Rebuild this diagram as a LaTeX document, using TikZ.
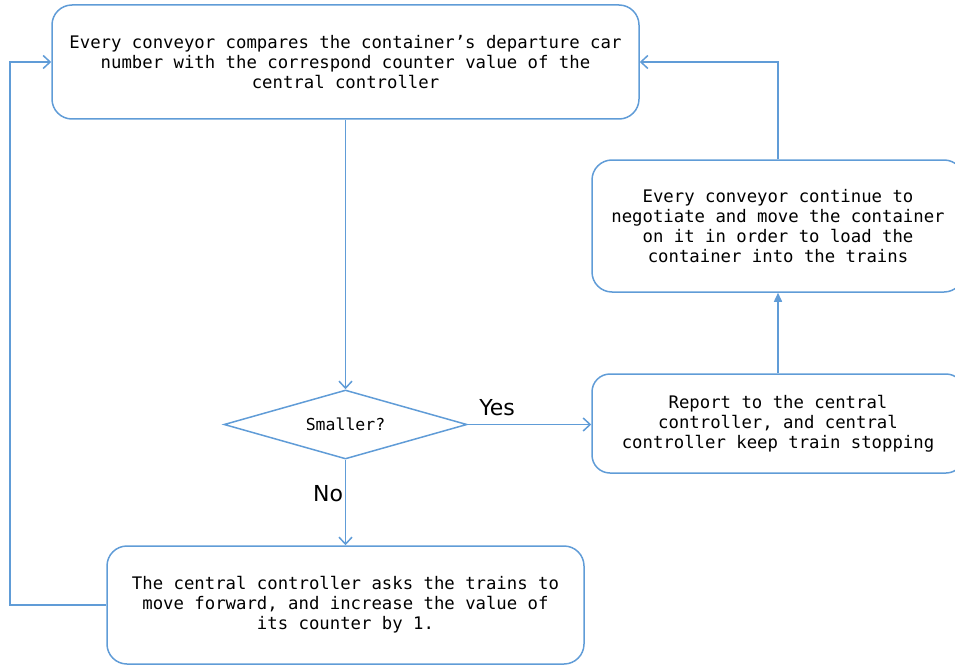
\documentclass[tikz,border=0pt]{standalone}
\usepackage{fontspec}
\setmonofont{DejaVu Sans Mono}
\setsansfont{DejaVu Sans}
\usetikzlibrary{arrows.meta,shapes.geometric}
\definecolor{flowblue}{RGB}{96,156,215}

\begin{document}
\begin{tikzpicture}[x=1pt,y=-1pt,>={Straight Barb[length=7pt,width=13pt]},
  stepbox/.style={draw=flowblue,line width=1.5pt,rounded corners=20pt,align=center,inner sep=0pt,
    font=\ttfamily\fontsize{17.3}{20}\selectfont},
  decision/.style={draw=flowblue,line width=1.5pt,diamond,shape aspect=3.5,inner sep=0pt,
    minimum width=243pt,minimum height=69pt,font=\ttfamily\fontsize{16.5}{20}\selectfont},
  flow/.style={draw=flowblue,line width=1.5pt},
  answer/.style={font=\sffamily\fontsize{22}{26}\selectfont}]
  \useasboundingbox (0,0) rectangle (955,666);
  \clip (0,0) rectangle (955,666);
  \node[stepbox,minimum width=587pt,minimum height=114pt] (conveyorcmp) at (345.5,62)
    {Every conveyor compares the container’s departure car\\number with the correspond counter value of the\\central controller};
  \node[stepbox,minimum width=372pt,minimum height=132pt] (continue) at (778,226)
    {Every conveyor continue to\\negotiate and move the container\\on it in order to load the\\container into the trains};
  \node[stepbox,rounded corners=18pt,minimum width=372pt,minimum height=99pt] (report) at (778,423.5)
    {Report to the central\\controller, and central\\controller keep train stopping};
  \node[decision] (smaller) at (345.5,424.5) {Smaller?};
  \node[stepbox,minimum width=477pt,minimum height=118pt] (advance) at (345.5,605)
    {The central controller asks the trains to\\move forward, and increase the value of\\its counter by 1.};
  \coordinate (loopleft) at (10,605);
  \node[answer] (yes) at (497,408) {Yes};
  \node[answer] (no) at (328,494) {No};
  \draw[flow,->] (conveyorcmp) -- (smaller);
  \draw[flow,->] (smaller.east) -- (smaller.east -| report.west);
  \draw[flow,->] (smaller) -- (advance);
  \draw[flow,->] (advance.west) -- (loopleft) |- (conveyorcmp.west);
  \draw[flow,-{Triangle[length=9pt,width=8pt]}] (report) -- (continue);
  \draw[flow,->] (continue.north) |- (conveyorcmp.east);
\end{tikzpicture}
\end{document}
